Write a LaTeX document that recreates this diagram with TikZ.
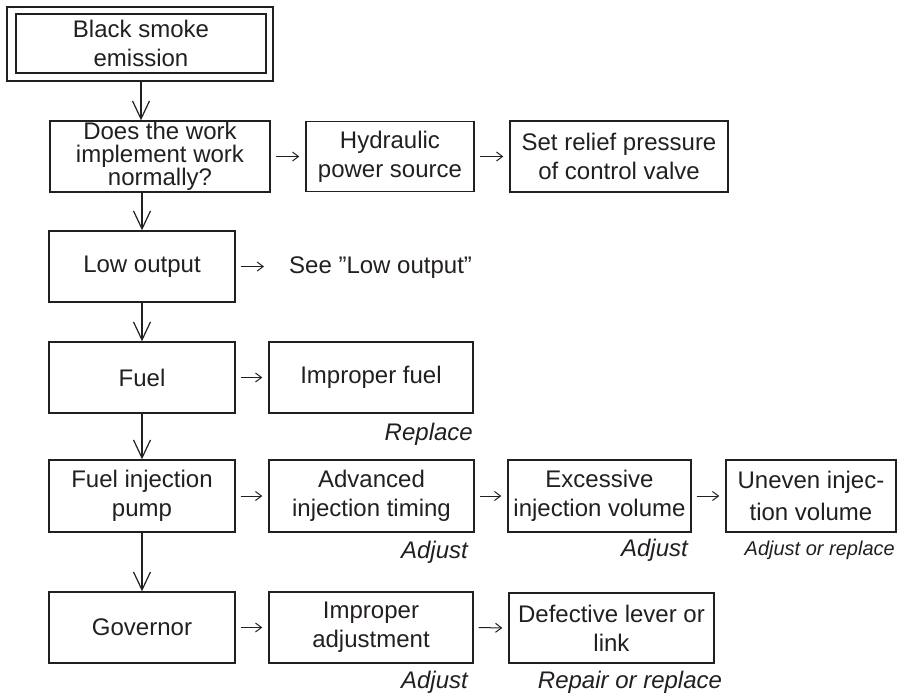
\documentclass[tikz,border=0pt]{standalone}
\usepackage{fontspec}
\setmainfont{Liberation Sans}
\usetikzlibrary{arrows.meta}
\definecolor{ink}{HTML}{231F20}
\begin{document}
\begin{tikzpicture}[x=1pt,y=-1pt,
  box/.style={draw=ink,line width=1.4pt,inner sep=0pt,align=center,text=ink,
    font=\fontsize{24}{29}\selectfont,minimum height=71pt},
  lbl/.style={inner sep=0pt,text=ink,font=\fontsize{24}{29}\selectfont\itshape},
  downarrow/.style={draw=ink,line width=1.2pt,-{Straight Barb[length=18pt,width=17pt,line width=1.2pt]}},
  sidearrow/.style={draw=ink,line width=1pt,-{Straight Barb[length=6pt,width=9pt,line width=1pt]},
    shorten <=5pt,shorten >=6pt}]
\useasboundingbox (0,0) rectangle (898,696);

% row 0
\node[box,minimum width=250pt,minimum height=59pt] (b0) at (141,43.5) {Black smoke\\emission};
\draw[ink,line width=1.4pt] (7,7) rectangle (273,81);
\coordinate (b0o) at (141,81);

% row 1
\node[box,minimum width=220pt,font=\fontsize{24}{23}\selectfont] (b1) at (160,156.5) {Does the work\\implement work\\normally?};
\node[box,minimum width=168pt,minimum height=70pt] (hyd) at (390,156.5) {Hydraulic\\power source};
\node[box,minimum width=218pt] (rel) at (619,156.5) {Set relief pressure\\of control valve};

% row 2
\node[box,minimum width=186pt] (low) at (142,266.5) {Low output};
\node[inner sep=0pt,anchor=west,text=ink,font=\fontsize{24}{29}\selectfont] (see) at (289,268) {See ”Low output”};

% row 3
\node[box,minimum width=186pt] (fuel) at (142,377.5) {Fuel};
\node[box,minimum width=204pt] (impf) at (371,377.5) {Improper fuel};
\node[lbl,anchor=east] (rep1) at (473,434) {Replace};

% row 4
\node[box,minimum width=186pt,minimum height=72pt] (pump) at (142,496) {Fuel injection\\pump};
\node[box,minimum width=205pt,minimum height=72pt] (adv) at (371.5,496) {Advanced\\injection timing};
\node[box,minimum width=183pt,minimum height=72pt] (exc) at (599.5,496) {Excessive\\injection volume};
\node[box,minimum width=170pt,minimum height=72pt,font=\fontsize{24}{32}\selectfont] (unev) at (811,496) {Uneven injec-\\tion volume};
\node[lbl,anchor=east] (adj1) at (468,552) {Adjust};
\node[lbl,anchor=east] (adj2) at (688,550) {Adjust};
\node[lbl,anchor=east,font=\fontsize{20}{24}\selectfont\itshape] (adjr) at (895,550) {Adjust or replace};

% row 5
\node[box,minimum width=186pt] (gov) at (142,627.5) {Governor};
\node[box,minimum width=204pt] (impa) at (371,627.5) {Improper\\adjustment};
\node[box,minimum width=205pt,minimum height=70pt] (def) at (611.5,628) {Defective lever or\\link};
\node[lbl,anchor=east] (adj3) at (468,682) {Adjust};
\node[lbl] (rep2) at (630,682) {Repair or replace};

% vertical connectors
\draw[downarrow] (b0o) -- (b1.north -| b0o);
\draw[downarrow] (b1.south -| low.north) -- (low.north);
\draw[downarrow] (low.south) -- (fuel.north);
\draw[downarrow] (fuel.south) -- (pump.north);
\draw[downarrow] (pump.south) -- (gov.north);

% horizontal connectors
\draw[sidearrow] (b1.east) -- (hyd.west);
\draw[sidearrow] (hyd.east) -- (rel.west);
\draw[sidearrow,shorten >=25pt] (low.east) -- (low.east -| see.west);
\draw[sidearrow] (fuel.east) -- (impf.west);
\draw[sidearrow] (pump.east) -- (adv.west);
\draw[sidearrow] (adv.east) -- (exc.west);
\draw[sidearrow] (exc.east) -- (unev.west);
\draw[sidearrow] (gov.east) -- (impa.west);
\draw[sidearrow] (impa.east) -- (def.west);
\end{tikzpicture}
\end{document}
